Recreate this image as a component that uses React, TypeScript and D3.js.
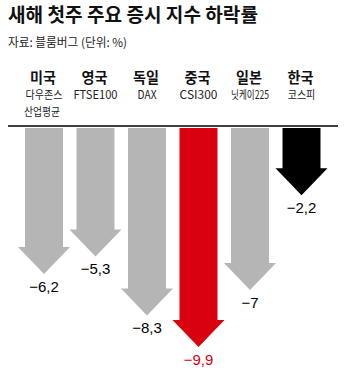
import React from "react";
import * as d3 from "d3";

const countries = ["미국", "영국", "독일", "중국", "일본", "한국"];
const indexLine1 = ["다우존스", "FTSE100", "DAX", "CSI300", "닛케이225", "코스피"];
const indexLine2 = ["산업평균", "", "", "", "", ""];
const values = [-6.2, -5.3, -8.3, -9.9, -7, -2.2];
const labels = ["−6,2", "−5,3", "−8,3", "−9,9", "−7", "−2,2"];
const colors = ["#b5b5b5", "#b5b5b5", "#b5b5b5", "#d9000f", "#b5b5b5", "#000000"];
const labelColors = ["#000", "#000", "#000", "#d9000f", "#000", "#000"];

const W = 350;
const H = 372;

export default function App() {
  const x = d3.scaleBand<string>().domain(countries).range([18.25, 327.25]).padding(0);
  const y = d3.scaleLinear().domain([0, -9.9]).range([152, 347]);
  const top = 128;
  const shaftW = 38;
  const headW = 52;
  const headH = 27;
  const font = "'Noto Sans CJK KR', 'Noto Sans', sans-serif";

  return (
    <svg width={W} height={H} style={{ position: "absolute", left: 0, top: 0, background: "#fff" }}>
      <text x={8} y={22} fontFamily={font} fontWeight={700} fontSize={19} fill="#111"
        textLength={250} lengthAdjust="spacingAndGlyphs">새해 첫주 주요 증시 지수 하락률</text>
      <text x={8} y={47} fontFamily={font} fontSize={12} fill="#222"
        textLength={119} lengthAdjust="spacingAndGlyphs">자료: 블룸버그 (단위: %)</text>
      {countries.map((c, i) => {
        const cx = (x(c) as number) + x.bandwidth() / 2;
        const tip = y(values[i]);
        const hb = tip - headH;
        const path = d3.path();
        path.moveTo(cx - shaftW / 2, top);
        path.lineTo(cx + shaftW / 2, top);
        path.lineTo(cx + shaftW / 2, hb);
        path.lineTo(cx + headW / 2, hb);
        path.lineTo(cx, tip);
        path.lineTo(cx - headW / 2, hb);
        path.lineTo(cx - shaftW / 2, hb);
        path.closePath();
        const l1 = indexLine1[i];
        const l1w = l1.length * (/[0-9A-Z]/.test(l1) ? 6.3 : 9.2);
        return (
          <g key={c}>
            <text x={cx - 1} y={83} textAnchor="middle" fontFamily={font} fontWeight={700} fontSize={15} fill="#111"
              textLength={26} lengthAdjust="spacingAndGlyphs">{c}</text>
            <text x={cx} y={99} textAnchor="middle" fontFamily={font} fontSize={11.5} fill="#222"
              textLength={l1w} lengthAdjust="spacingAndGlyphs">{l1}</text>
            {indexLine2[i] && (
              <text x={cx - 2} y={116} textAnchor="middle" fontFamily={font} fontSize={11.5} fill="#222"
                textLength={36} lengthAdjust="spacingAndGlyphs">{indexLine2[i]}</text>
            )}
            <path d={path.toString()} fill={colors[i]} />
            <text x={cx} y={tip + 18} textAnchor="middle" fontFamily="'Liberation Sans', Arial, sans-serif"
              fontSize={15} fill={labelColors[i]}>{labels[i]}</text>
          </g>
        );
      })}
      <line x1={8} x2={338} y1={126} y2={126} stroke="#000" strokeWidth={1.5} />
    </svg>
  );
}
